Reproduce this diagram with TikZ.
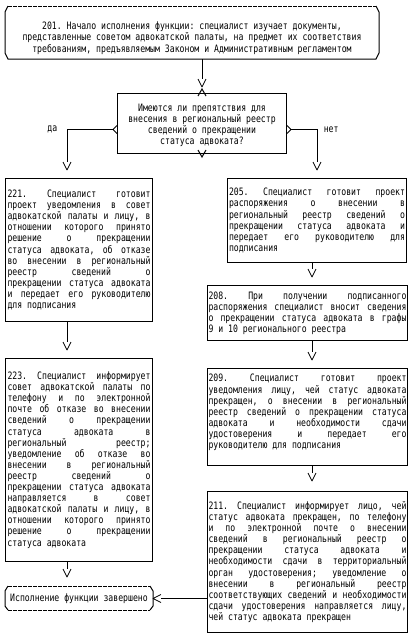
\documentclass[tikz,border=0pt]{standalone}
\usepackage{fontspec}
\usetikzlibrary{positioning}
\newfontfamily\pixfont[FakeStretch=0.8]{DejaVu Sans Mono}
\newcommand\pixsize{\pixfont\fontsize{10.2}{11.1}\selectfont\fontdimen3\font=4pt\relax\fontdimen4\font=1pt\relax\hyphenpenalty=10000\relax\lineskiplimit=-5pt\relax\frenchspacing}

\pgfdeclarearrow{
  name = vtip,
  setup code = {
    \pgfarrowssettipend{0pt}
    \pgfarrowssetlineend{-8pt}
    \pgfarrowssetbackend{-8pt}
    \pgfarrowsupperhullpoint{-8pt}{4pt}
    \pgfarrowsupperhullpoint{0pt}{0pt}
  },
  drawing code = {
    \pgfsetdash{}{0pt}
    \pgfsetroundjoin
    \pgfsetlinewidth{0.8pt}
    \pgfpathmoveto{\pgfqpoint{-8pt}{4pt}}
    \pgfpathlineto{\pgfpointorigin}
    \pgfpathlineto{\pgfqpoint{-8pt}{-4pt}}
    \pgfusepathqstroke
  }
}

\begin{document}
\begin{tikzpicture}[x=1pt, y=-1pt, line width=1pt]

\tikzset{
    stepbox/.style={draw, anchor=north west, inner ysep=0pt, align=justify, font=\pixsize},
    endbox/.style={anchor=north west, inner sep=0pt, align=center, font=\pixsize},
    dashline/.style={dash pattern=on 3.5pt off 1.5pt}
}
\useasboundingbox (0,0) rectangle (412,640);

% start of the function
\node[endbox, minimum width=373pt, minimum height=52pt] (s201) at (5,6)
    {\rule{0pt}{19pt}201. Начало исполнения функции: специалист изучает документы,\\[0.6pt]
     представленные советом адвокатской палаты, на предмет их соответствия\\[0.6pt]
     требованиям, предъявляемым Законом и Административным регламентом};
\draw[dashline] ([xshift=3pt]s201.north west) -- ([xshift=-3pt]s201.north east);
\draw ([xshift=3pt]s201.north west) -- ([yshift=-6pt]s201.north west) -- ([yshift=6pt]s201.south west)
    -- ([xshift=3pt]s201.south west) -- ([xshift=-3pt]s201.south east) -- ([yshift=6pt]s201.south east)
    -- ([yshift=-6pt]s201.north east) -- ([xshift=-3pt]s201.north east);

% question
\node[draw, anchor=north west, minimum width=169pt, minimum height=60pt, inner sep=0pt, align=center, font=\pixsize] (q) at (117,93)
    {\rule{0pt}{11pt}Имеются ли препятствия для\\внесения в региональный реестр\\сведений о прекращении\\статуса адвоката?};
\draw ([xshift=-4pt,yshift=-3pt]q.north) -- ([yshift=4pt]q.north) -- ([xshift=4pt,yshift=-3pt]q.north);
\draw ([xshift=-4pt,yshift=4pt]q.south) -- ([yshift=-3pt]q.south) -- ([xshift=4pt,yshift=4pt]q.south);
\draw ([yshift=-2pt]q.west) -- ([xshift=-4pt,yshift=-6pt]q.west) -- ([yshift=-10pt]q.west);
\draw ([yshift=-2pt]q.east) -- ([xshift=4pt,yshift=-6pt]q.east) -- ([yshift=-10pt]q.east);

% left branch
\node[stepbox, text width=143pt, inner xsep=2pt, minimum height=143pt] (b221) at (5,178)
    {221. Специалист готовит\linebreak
     проект уведомления в совет\linebreak
     адвокатской палаты и лицу, в\linebreak
     отношении которого принято\linebreak
     решение о прекращении\linebreak
     статуса адвоката, об отказе\linebreak
     во внесении в региональный\linebreak
     реестр сведений о\linebreak
     прекращении статуса адвоката\linebreak
     и передает его руководителю\linebreak
     для подписания};
\node[stepbox, text width=143pt, inner xsep=2pt, minimum height=203pt] (b223) at (5,358)
    {223. Специалист информирует\linebreak
     совет адвокатской палаты по\linebreak
     телефону и по электронной\linebreak
     почте об отказе во внесении\linebreak
     сведений о прекращении\linebreak
     статуса адвоката в\linebreak
     региональный реестр;\linebreak
     уведомление об отказе во\linebreak
     внесении в региональный\linebreak
     реестр сведений о\linebreak
     прекращении статуса адвоката\linebreak
     направляется в совет\linebreak
     адвокатской палаты и лицу, в\linebreak
     отношении которого принято\linebreak
     решение о прекращении\linebreak
     статуса адвоката};

% right branch
\node[stepbox, text width=176pt, inner xsep=1.5pt, minimum height=84pt] (b205) at (227,178)
    {205. Специалист готовит проект\linebreak
     распоряжения о внесении в\linebreak
     региональный реестр сведений о\linebreak
     прекращении статуса адвоката и\linebreak
     передает его руководителю для\linebreak
     подписания};
\node[stepbox, text width=198pt, inner xsep=1pt, minimum height=55pt] (b208) at (207,285)
    {208. При получении подписанного\linebreak
     распоряжения специалист вносит сведения\linebreak
     о прекращении статуса адвоката в графы\linebreak
     9 и 10 регионального реестра};
\node[stepbox, text width=198pt, inner xsep=1pt, minimum height=97pt] (b209) at (207,368)
    {209. Специалист готовит проект\linebreak
     уведомления лицу, чей статус адвоката\linebreak
     прекращен, о внесении в региональный\linebreak
     реестр сведений о прекращении статуса\linebreak
     адвоката и необходимости сдачи\linebreak
     удостоверения и передает его\linebreak
     руководителю для подписания\\ \mbox{}};
\node[stepbox, text width=198pt, inner xsep=1pt, minimum height=141pt] (b211) at (207,491)
    {211. Специалист информирует лицо, чей\linebreak
     статус адвоката прекращен, по телефону\linebreak
     и по электронной почте о внесении\linebreak
     сведений в региональный реестр о\linebreak
     прекращении статуса адвоката и\linebreak
     необходимости сдачи в территориальный\linebreak
     орган удостоверения; уведомление о\linebreak
     внесении в региональный реестр\linebreak
     соответствующих сведений и необходимости\linebreak
     сдачи удостоверения направляется лицу,\linebreak
     чей статус адвоката прекращен};

% end of the function
\node[endbox, minimum width=147pt, minimum height=28pt] (term) at (5,584) {Исполнение функции завершено};
\draw[dashline] ([xshift=3pt,yshift=-2pt]term.north west) -- ([xshift=-3pt,yshift=-2pt]term.north east);
\draw[dashline] ([xshift=3pt,yshift=3pt]term.south west) -- ([xshift=-3pt,yshift=3pt]term.south east);
\draw ([xshift=3pt,yshift=-2pt]term.north west) -- ([yshift=-7pt]term.north west) -- ([yshift=7pt]term.south west)
    -- ([xshift=3pt,yshift=3pt]term.south west);
\draw ([xshift=-3pt,yshift=-2pt]term.north east) -- ([yshift=-7pt]term.north east) -- ([yshift=7pt]term.south east)
    -- ([xshift=-3pt,yshift=3pt]term.south east);

% connectors
\draw[-vtip] (s201.south -| q.north) -- ([yshift=6pt]q.north);
\draw[-vtip] ([xshift=-4pt,yshift=-6pt]q.west) -| ([xshift=62pt,yshift=8pt]b221.north west)
    node[pos=0.5, left=6pt, font=\pixsize] {да};
\draw[-vtip] ([xshift=4pt,yshift=-6pt]q.east) -| ([yshift=8pt]b205.north)
    node[pos=0.5, right=3pt, font=\pixsize] {нет};
\draw[-vtip] ([xshift=62pt]b221.south west) -- ([xshift=62pt,yshift=8pt]b223.north west);
\draw[-vtip] ([xshift=62pt]b223.south west) -- ([xshift=62pt,yshift=7pt]term.north west);
\draw[-vtip] ([xshift=85pt]b205.south west) -- ([xshift=105pt,yshift=8pt]b208.north west);
\draw[-vtip] ([xshift=105pt]b208.south west) -- ([xshift=105pt,yshift=8pt]b209.north west);
\draw[-vtip] ([xshift=105pt]b209.south west) -- ([xshift=105pt,yshift=10pt]b211.north west);
\draw[-vtip] (b211.west |- term.east) -- (term.east);
\end{tikzpicture}
\end{document}
